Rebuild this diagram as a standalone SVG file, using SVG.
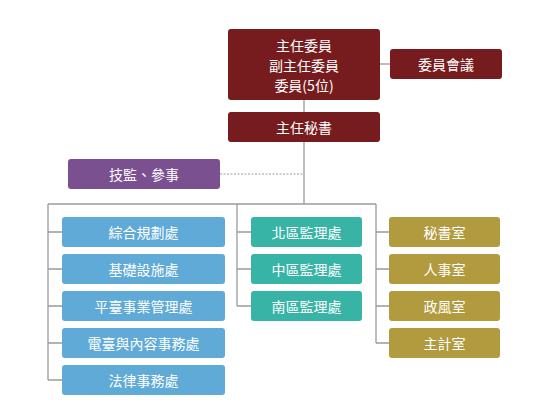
<svg xmlns="http://www.w3.org/2000/svg" width="554" height="404" viewBox="0 0 554 404">
<style>
.n{stroke:none}
.m{fill:#761c1e}
.p{fill:#7b5090}
.b{fill:#60aad8}
.t{fill:#38b4a7}
.g{fill:#b29a3e}
text{font-family:"Noto Sans CJK TC","Noto Sans",sans-serif;font-size:14px;fill:#ffffff;text-anchor:middle;dominant-baseline:central}
.c{fill:none;stroke:#9a9a9a;stroke-width:1.3}
.d{fill:none;stroke:#9a9a9a;stroke-width:1;stroke-dasharray:2 1.5}
</style>
<rect width="554" height="404" fill="#ffffff"/>
<g id="connectors">
<path class="c" d="M380 64H390"/>
<path class="c" d="M304 100V112M304 142V204"/>
<path class="d" d="M220 174H304"/>
<path class="c" d="M48 204H376M48 204V380M48 232H62M48 269H62M48 306H62M48 343H62M48 380H62"/>
<path class="c" d="M237 204V306M237 232H251M237 269H251M237 306H251"/>
<path class="c" d="M376 204V343M376 232H389M376 269H389M376 306H389M376 343H389"/>
</g>
<g id="n-committee"><rect class="m" x="228" y="29" width="152" height="71" rx="3"/><text x="304" y="45">主任委員</text><text x="304" y="65">副主任委員</text><text x="304" y="85">委員(5位)</text></g>
<g id="n-meeting"><rect class="m" x="390" y="49" width="112" height="30" rx="3"/><text x="446" y="64">委員會議</text></g>
<g id="n-secgen"><rect class="m" x="228" y="112" width="152" height="30" rx="3"/><text x="304" y="127">主任秘書</text></g>
<g id="n-advisor"><rect class="p" x="68" y="159" width="152" height="30" rx="3"/><text x="144" y="174">技監、參事</text></g>
<g id="n-b1"><rect class="b" x="62" y="217" width="163" height="30" rx="3"/><text x="143.5" y="232">綜合規劃處</text></g>
<g id="n-b2"><rect class="b" x="62" y="254" width="163" height="30" rx="3"/><text x="143.5" y="269">基礎設施處</text></g>
<g id="n-b3"><rect class="b" x="62" y="291" width="163" height="30" rx="3"/><text x="143.5" y="306">平臺事業管理處</text></g>
<g id="n-b4"><rect class="b" x="62" y="328" width="163" height="30" rx="3"/><text x="143.5" y="343">電臺與內容事務處</text></g>
<g id="n-b5"><rect class="b" x="62" y="365" width="163" height="30" rx="3"/><text x="143.5" y="380">法律事務處</text></g>
<g id="n-t1"><rect class="t" x="251" y="217" width="111" height="30" rx="3"/><text x="306.5" y="232">北區監理處</text></g>
<g id="n-t2"><rect class="t" x="251" y="254" width="111" height="30" rx="3"/><text x="306.5" y="269">中區監理處</text></g>
<g id="n-t3"><rect class="t" x="251" y="291" width="111" height="30" rx="3"/><text x="306.5" y="306">南區監理處</text></g>
<g id="n-g1"><rect class="g" x="389" y="217" width="111" height="30" rx="3"/><text x="444.5" y="232">秘書室</text></g>
<g id="n-g2"><rect class="g" x="389" y="254" width="111" height="30" rx="3"/><text x="444.5" y="269">人事室</text></g>
<g id="n-g3"><rect class="g" x="389" y="291" width="111" height="30" rx="3"/><text x="444.5" y="306">政風室</text></g>
<g id="n-g4"><rect class="g" x="389" y="328" width="111" height="30" rx="3"/><text x="444.5" y="343">主計室</text></g>
</svg>
